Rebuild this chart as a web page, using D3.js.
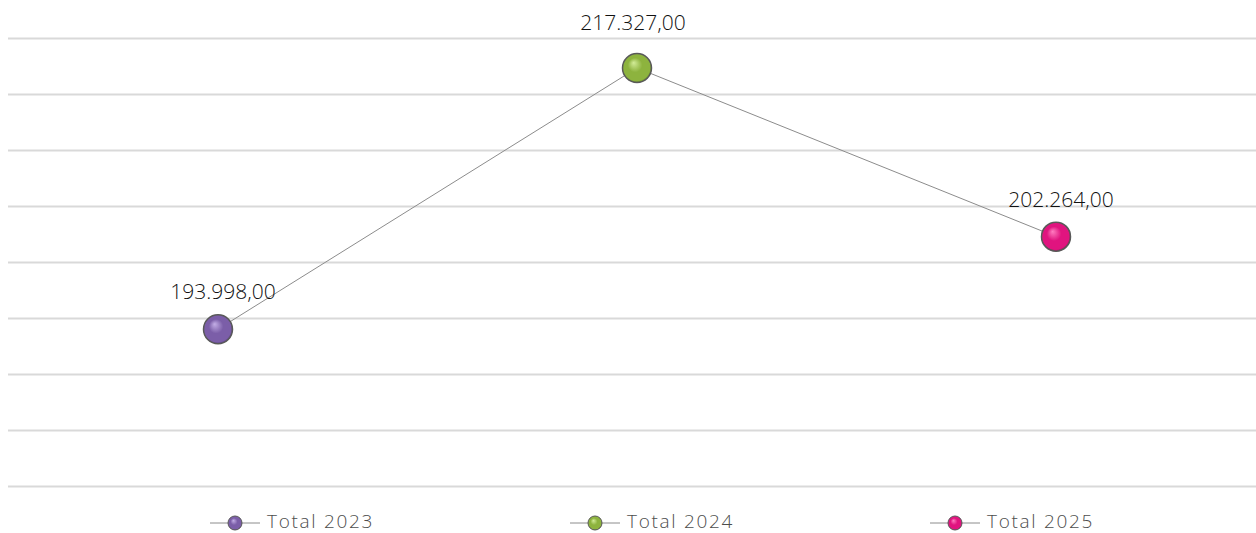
<!DOCTYPE html>
<html>
<head>
<meta charset="utf-8">
<script src="https://cdn.jsdelivr.net/npm/d3@7"></script>
<style>
  html, body { margin: 0; padding: 0; background: #fff; }
  svg { display: block; }
</style>
</head>
<body>
<svg id="chart" width="1256" height="533"></svg>
<script>
const categories = ["Total 2023", "Total 2024", "Total 2025"];
const values = [193998, 217327, 202264];
const valueLabels = ["193.998,00", "217.327,00", "202.264,00"];
const yTicks = [180000, 185000, 190000, 195000, 200000, 205000, 210000, 215000, 220000];
const colors = [
  { base: "#7b5ea8", light: "#c3aee6", dark: "#3d2b5c" },
  { base: "#8db33e", light: "#d2ec98", dark: "#45601a" },
  { base: "#e0147f", light: "#ff7cc0", dark: "#6e0a3d" }
];

const svg = d3.select("#chart");
const defs = svg.append("defs");

colors.forEach((c, i) => {
  const g = defs.append("radialGradient")
    .attr("id", "sph" + i)
    .attr("cx", "50%").attr("cy", "50%").attr("r", "55%")
    .attr("fx", "38%").attr("fy", "32%");
  g.append("stop").attr("offset", "0%").attr("stop-color", c.light);
  g.append("stop").attr("offset", "45%").attr("stop-color", c.base);
  g.append("stop").attr("offset", "85%").attr("stop-color", c.base);
  g.append("stop").attr("offset", "100%").attr("stop-color", c.dark);
});

const x = d3.scalePoint().domain(categories).range([8.5, 1265.5]).padding(0.5);
const y = d3.scaleLinear().domain([180000, 220000]).range([486, 38]);

// gridlines
const ga = svg.append("g").attr("transform", "translate(1256,0)").call(
  d3.axisLeft(y).tickValues(yTicks).tickSize(1248).tickFormat("")
);
ga.select(".domain").remove();
ga.selectAll(".tick line").attr("stroke", "#d9d9d9").attr("stroke-width", 2);

// line
const line = d3.line().x((d, i) => x(categories[i])).y(d => y(d));
svg.append("path")
  .datum(values)
  .attr("d", line)
  .attr("fill", "none")
  .attr("stroke", "#8c8c8c")
  .attr("stroke-width", 1);

// markers
svg.selectAll("circle.pt")
  .data(values)
  .join("circle")
  .attr("class", "pt")
  .attr("cx", (d, i) => x(categories[i]))
  .attr("cy", d => y(d))
  .attr("r", 14.5)
  .attr("fill", (d, i) => `url(#sph${i})`)
  .attr("stroke", "#595959")
  .attr("stroke-width", 1.5);

// labels
const FONT = "'Open Sans', Lato, 'Noto Sans', sans-serif";
svg.selectAll("text.lbl")
  .data(values)
  .join("text")
  .attr("class", "lbl")
  .attr("x", (d, i) => x(categories[i]) + [5, -4, 5][i])
  .attr("y", d => { const yy = y(d) - 30; return yy < 45 ? 30 : yy; })
  .attr("text-anchor", "middle")
  .attr("font-family", FONT)
  .attr("font-weight", 300)
  .attr("font-size", 21)
  .attr("fill", "#111")
  .text((d, i) => valueLabels[i]);

// legend
const legX = d3.scalePoint().domain(categories).range([210, 930]);
const leg = svg.selectAll("g.leg")
  .data(categories)
  .join("g")
  .attr("class", "leg")
  .attr("transform", d => `translate(${legX(d)},523)`);
leg.append("line")
  .attr("x1", 0).attr("x2", 50).attr("y1", 0).attr("y2", 0)
  .attr("stroke", "#8c8c8c").attr("stroke-width", 1);
leg.append("circle")
  .attr("cx", 25).attr("cy", 0).attr("r", 7)
  .attr("fill", (d, i) => `url(#sph${i})`)
  .attr("stroke", "#595959").attr("stroke-width", 1);
leg.append("text")
  .attr("x", 57).attr("y", 5)
  .attr("font-family", FONT)
  .attr("font-weight", 300)
  .attr("font-size", 19)
  .attr("letter-spacing", 1.7)
  .attr("fill", "#4d4d4d")
  .text(d => d);
</script>
</body>
</html>
